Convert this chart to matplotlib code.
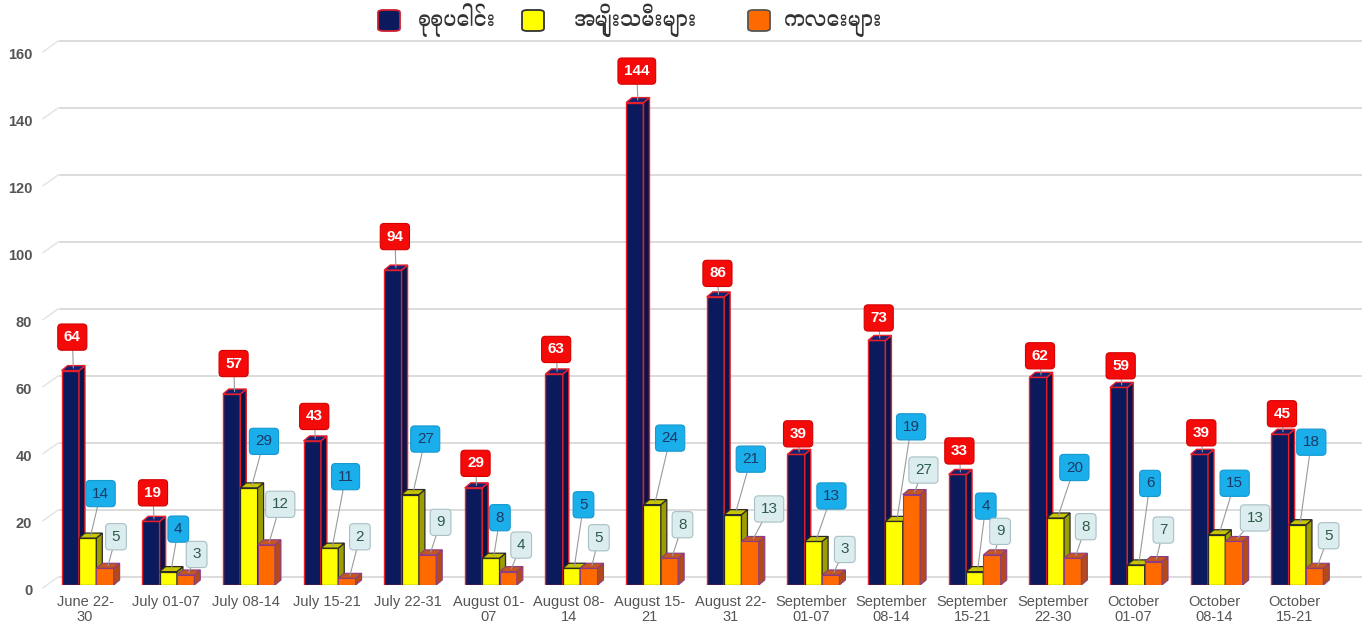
import numpy as np
import matplotlib
matplotlib.use("Agg")
import matplotlib.pyplot as plt
from matplotlib import font_manager as fm
from matplotlib.patches import Polygon, FancyBboxPatch
from matplotlib.transforms import ScaledTranslation

# data
weeks = ["June 22-\n30", "July 01-07", "July 08-14", "July 15-21", "July 22-31",
         "August 01-\n07", "August 08-\n14", "August 15-\n21", "August 22-\n31",
         "September\n01-07", "September\n08-14", "September\n15-21", "September\n22-30",
         "October\n01-07", "October\n08-14", "October\n15-21"]
total = [64, 19, 57, 43, 94, 29, 63, 144, 86, 39, 73, 33, 62, 59, 39, 45]
women = [14, 4, 29, 11, 27, 8, 5, 24, 21, 13, 19, 4, 20, 6, 15, 18]
children = [5, 3, 12, 2, 9, 4, 5, 8, 13, 3, 27, 9, 8, 7, 13, 5]
series_names = ["စုစုပေါင်း", "အမျိုးသမီးများ", "ကလေးများ"]

# label placement (pixels right / up from the bar top)
total_lab_dx = [2] * 16
total_lab_up = [33, 28, 30, 24, 33, 24, 24, 31, 23, 20, 22, 23, 21, 21, 21, 20]
women_lab_dx = [13, 10, 15, 16, 15, 9, 12, 18, 18, 18, 17, 11, 19, 14, 18, 14]
women_lab_up = [44, 42, 46, 71, 55, 40, 63, 66, 55, 45, 94, 65, 50, 81, 51, 82]
child_lab_dx = [11, 11, 14, 13, 13, 13, 10, 13, 19, 14, 12, 8, 13, 10, 21, 14]
child_lab_up = [31, 20, 40, 41, 32, 26, 30, 33, 32, 25, 24, 23, 31, 31, 23, 32]


def find_font(ch):
    try:
        from fontTools.ttLib import TTFont
    except Exception:
        return None
    paths = fm.findSystemFonts()
    paths.sort(key=lambda p: 0 if ("yanmar" in p or "adauk" in p) else 1)
    for p in paths:
        if "CJK" in p:
            continue
        try:
            f = TTFont(p, fontNumber=0, lazy=True)
            cmap = f.getBestCmap()
            if cmap and ord(ch) in cmap:
                fm.fontManager.addfont(p)
                return fm.FontProperties(fname=p).get_name()
        except Exception:
            pass
    return None


my_font = find_font("\u1005")
plt.rcParams["font.family"] = ["Liberation Sans", "DejaVu Sans"]

W, H = 1362, 630
fig = plt.figure(figsize=(W / 100, H / 100), dpi=100)
ax = fig.add_axes([44.7 / W, 45 / H, (1335 - 44.7) / W, 536 / H])
ax.set_xlim(-0.5, 15.5)
ax.set_ylim(0, 160)
for s in ax.spines.values():
    s.set_visible(False)

# back wall grid
back = ax.transData + ScaledTranslation(0.15, 0.08, fig.dpi_scale_trans)
for v in range(0, 161, 20):
    ax.plot([-0.5, 15.7], [v, v], color="#d9d9d9", lw=1.3, transform=back,
            clip_on=False, zorder=1)
    ax.plot([-0.52, -0.52 + 15 / 80.67], [v - 0.8, v + 8 / 3.35],
            color="#e2e2e2", lw=1.0, clip_on=False, zorder=1)

ax.set_yticks(range(0, 161, 20))
ax.set_yticklabels([str(v) for v in range(0, 161, 20)], fontsize=10.5,
                   fontweight="bold", color="#555555")
ax.set_xticks(range(len(weeks)))
ax.set_xticklabels(weeks, fontsize=10.5, color="#555555", linespacing=1.1)
ax.tick_params(axis="y", length=0, pad=9)
ax.tick_params(axis="x", length=0, pad=7)
for t in ax.get_yticklabels():
    t.set_transform(t.get_transform() + ScaledTranslation(0, -0.045, fig.dpi_scale_trans))

x = np.arange(len(weeks))
bw = 0.215
ddx = 6 / 80.67
ddy = 5 / 3.35

styles = [
    dict(vals=total, off=-0.29, front="#0b1a5c", side="#0a1448", top="#142274",
         edge="#e8202a", lw=1.0, z=3),
    dict(vals=women, off=-0.075, front="#ffff00", side="#9d9c00", top="#c9c600",
         edge="#2a2a2a", lw=0.9, z=4),
    dict(vals=children, off=0.14, front="#ff6a00", side="#b24a1c", top="#c4561f",
         edge="#8a3c86", lw=0.8, z=5),
]

for st in styles:
    vals = st["vals"]
    ax.bar(x + st["off"], vals, width=bw, align="edge", color=st["front"],
           edgecolor=st["edge"], linewidth=st["lw"], zorder=st["z"])
    for xi, v in zip(x, vals):
        x0 = xi + st["off"]
        x1 = x0 + bw
        side = Polygon([(x1, 0), (x1 + ddx, ddy), (x1 + ddx, v + ddy), (x1, v)],
                       closed=True, fc=st["side"], ec=st["edge"], lw=st["lw"],
                       zorder=st["z"] + 0.1)
        top = Polygon([(x0, v), (x0 + ddx, v + ddy), (x1 + ddx, v + ddy), (x1, v)],
                      closed=True, fc=st["top"], ec=st["edge"], lw=st["lw"],
                      zorder=st["z"] + 0.1)
        ax.add_patch(side)
        ax.add_patch(top)

label_sets = [
    (total, -0.29, total_lab_dx, total_lab_up,
     dict(fc="#f50a0a", ec="#d40000"), "white", "bold"),
    (women, -0.075, women_lab_dx, women_lab_up,
     dict(fc="#1aaeea", ec="#1799cf"), "#1d3a66", "normal"),
    (children, 0.14, child_lab_dx, child_lab_up,
     dict(fc="#dcedf0", ec="#a9c0c4"), "#2d5b4a", "normal"),
]
for vals, off, ldx, lup, box, tc, fw in label_sets:
    for xi, v, dx, up in zip(x, vals, ldx, lup):
        ax.annotate(str(v), xy=(xi + off + bw / 2 + ddx / 2, v + ddy / 2),
                    xytext=(dx - 3, up - 2), textcoords="offset pixels",
                    ha="center", va="center", fontsize=11, color=tc,
                    fontweight=fw, zorder=10, annotation_clip=False,
                    bbox=dict(boxstyle="round,pad=0.4,rounding_size=0.25",
                              lw=0.8, **box),
                    arrowprops=dict(arrowstyle="-", color="#9a9a9a", lw=0.8,
                                    shrinkA=0, shrinkB=0))

# legend drawn by hand at the top
leg_font = [my_font, "DejaVu Sans"] if my_font else ["DejaVu Sans"]
leg_boxes = [(378, "#0b1a5c", "#d02030"), (522, "#ffff00", "#333333"),
             (748, "#ff6a00", "#555555")]
leg_text_x = [418, 574, 784]
for (bx, fc, ec), tx, name in zip(leg_boxes, leg_text_x, series_names):
    fig.patches.append(FancyBboxPatch((bx / W, (H - 31) / H), 22 / W, 21 / H,
                                      boxstyle="round,pad=0,rounding_size=0.004",
                                      fc=fc, ec=ec, lw=1.3,
                                      transform=fig.transFigure, figure=fig))
    fig.text(tx / W, (H - 26) / H, name, ha="left", va="baseline",
             fontsize=15, color="#333333", family=leg_font)

fig.savefig("out.png", dpi=100)
